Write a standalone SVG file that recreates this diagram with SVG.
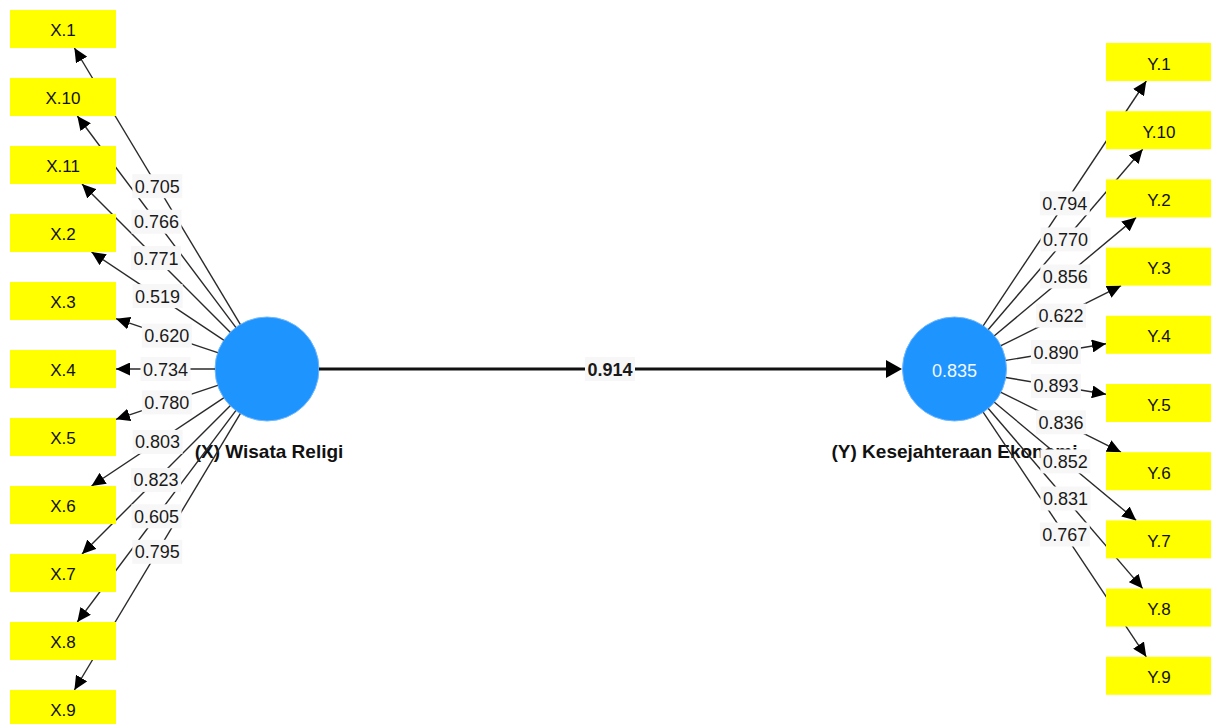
<svg xmlns="http://www.w3.org/2000/svg" width="1211" height="724" viewBox="0 0 1211 724">
<style>
.bg{fill:#ffffff}
.ind rect{fill:#ffff00}
.ind text{font-family:"Liberation Sans",Arial,sans-serif;font-size:17px;fill:#111;text-anchor:middle}
.lat circle{fill:#1e94ff;stroke:#6fb8ff;stroke-width:1}
.title{font-family:"Liberation Sans",Arial,sans-serif;font-size:19px;font-weight:bold;fill:#111;text-anchor:middle}
.r2{font-family:"Liberation Sans",Arial,sans-serif;font-size:18px;fill:#f4f8ff;text-anchor:middle}
.ln{stroke:#2a2a2a;stroke-width:1.4;fill:none;marker-end:url(#ah)}
.main{stroke:#111;stroke-width:3;fill:none;marker-end:url(#ahm)}
.lb rect{fill:#f7f7f7}
.lb text{font-family:"Liberation Sans",Arial,sans-serif;font-size:18px;fill:#1a1a1a;text-anchor:middle}
.lb text.b{font-weight:bold;font-size:18px}
</style>
<defs>
<marker id="ah" viewBox="0 0 14 13" markerWidth="14" markerHeight="13" refX="14" refY="6.5" orient="auto" markerUnits="userSpaceOnUse"><path d="M0,0 L14,6.5 L0,13 z" fill="#000"/></marker>
<marker id="ahm" viewBox="0 0 16 18" markerWidth="16" markerHeight="18" refX="2" refY="9" orient="auto" markerUnits="userSpaceOnUse"><path d="M0,0 L16,9 L0,18 z" fill="#000"/></marker>
</defs>
<rect class="bg" x="0" y="0" width="1211" height="724"/>

<g id="node-X" class="lat">
<circle cx="267" cy="369" r="52"/>
<text class="title" x="269" y="458">(X) Wisata Religi</text>
</g>
<g id="node-Y" class="lat">
<circle cx="954.5" cy="369" r="52"/>
<text class="r2" x="954.5" y="377">0.835</text>
<text class="title" x="954.5" y="458">(Y) Kesejahteraan Ekonomi</text>
</g>

<g id="connectors">
<line class="main" x1="319" y1="369" x2="888" y2="369"/>
<line class="ln" x1="240.3" y1="324.4" x2="74.4" y2="48"/>
<line class="ln" x1="235.8" y1="327.4" x2="77.3" y2="116"/>
<line class="ln" x1="230.2" y1="332.2" x2="82" y2="184"/>
<line class="ln" x1="223.7" y1="340.2" x2="91.5" y2="252"/>
<line class="ln" x1="217.7" y1="352.6" x2="116" y2="318.7"/>
<line class="ln" x1="215" y1="369" x2="116" y2="369"/>
<line class="ln" x1="217.7" y1="385.4" x2="116" y2="419.3"/>
<line class="ln" x1="223.7" y1="397.8" x2="91.5" y2="486"/>
<line class="ln" x1="230.2" y1="405.8" x2="82" y2="554"/>
<line class="ln" x1="235.8" y1="410.6" x2="77.3" y2="622"/>
<line class="ln" x1="240.3" y1="413.6" x2="74.4" y2="690"/>
<line class="ln" x1="983.3" y1="325.7" x2="1146.3" y2="81"/>
<line class="ln" x1="988.3" y1="329.5" x2="1142.7" y2="149.2"/>
<line class="ln" x1="994.4" y1="335.7" x2="1136.2" y2="217.4"/>
<line class="ln" x1="1001" y1="345.7" x2="1121.1" y2="285.6"/>
<line class="ln" x1="1005.8" y1="360.4" x2="1106" y2="343.7"/>
<line class="ln" x1="1005.8" y1="377.5" x2="1106" y2="394.2"/>
<line class="ln" x1="1001" y1="392.3" x2="1121" y2="452.2"/>
<line class="ln" x1="994.4" y1="402.3" x2="1136.2" y2="520.4"/>
<line class="ln" x1="988.3" y1="408.5" x2="1142.7" y2="588.6"/>
<line class="ln" x1="983.3" y1="412.3" x2="1146.3" y2="656.8"/>
<g class="lb">
<rect x="585" y="357" width="50" height="24"/><text class="b" x="610" y="375.5">0.914</text>
<rect x="132.3" y="174.2" width="50" height="24"/><text x="157.3" y="192.7">0.705</text>
<rect x="131.5" y="209.7" width="50" height="24"/><text x="156.5" y="228.2">0.766</text>
<rect x="131.1" y="246.1" width="50" height="24"/><text x="156.1" y="264.6">0.771</text>
<rect x="132.6" y="284.1" width="50" height="24"/><text x="157.6" y="302.6">0.519</text>
<rect x="141.8" y="323.6" width="50" height="24"/><text x="166.8" y="342.1">0.620</text>
<rect x="140.5" y="357" width="50" height="24"/><text x="165.5" y="375.5">0.734</text>
<rect x="141.8" y="390.4" width="50" height="24"/><text x="166.8" y="408.9">0.780</text>
<rect x="132.6" y="429.9" width="50" height="24"/><text x="157.6" y="448.4">0.803</text>
<rect x="131.1" y="467.9" width="50" height="24"/><text x="156.1" y="486.4">0.823</text>
<rect x="131.5" y="504.3" width="50" height="24"/><text x="156.5" y="522.8">0.605</text>
<rect x="132.3" y="539.8" width="50" height="24"/><text x="157.3" y="558.3">0.795</text>
<rect x="1039.8" y="191.4" width="50" height="24"/><text x="1064.8" y="209.9">0.794</text>
<rect x="1040.5" y="227.4" width="50" height="24"/><text x="1065.5" y="245.9">0.770</text>
<rect x="1040.3" y="264.5" width="50" height="24"/><text x="1065.3" y="283">0.856</text>
<rect x="1036" y="303.6" width="50" height="24"/><text x="1061" y="322.1">0.622</text>
<rect x="1030.9" y="340" width="50" height="24"/><text x="1055.9" y="358.5">0.890</text>
<rect x="1030.9" y="373.9" width="50" height="24"/><text x="1055.9" y="392.4">0.893</text>
<rect x="1036" y="410.3" width="50" height="24"/><text x="1061" y="428.8">0.836</text>
<rect x="1040.3" y="449.4" width="50" height="24"/><text x="1065.3" y="467.9">0.852</text>
<rect x="1040.5" y="486.5" width="50" height="24"/><text x="1065.5" y="505">0.831</text>
<rect x="1039.8" y="522.5" width="50" height="24"/><text x="1064.8" y="541">0.767</text>
</g>
</g>

<g id="node-X1" class="ind"><rect x="10" y="10" width="106" height="38"/><text x="63" y="36">X.1</text></g>
<g id="node-X10" class="ind"><rect x="10" y="78" width="106" height="38"/><text x="63" y="104">X.10</text></g>
<g id="node-X11" class="ind"><rect x="10" y="146" width="106" height="38"/><text x="63" y="172">X.11</text></g>
<g id="node-X2" class="ind"><rect x="10" y="214" width="106" height="38"/><text x="63" y="240">X.2</text></g>
<g id="node-X3" class="ind"><rect x="10" y="282" width="106" height="38"/><text x="63" y="308">X.3</text></g>
<g id="node-X4" class="ind"><rect x="10" y="350" width="106" height="38"/><text x="63" y="376">X.4</text></g>
<g id="node-X5" class="ind"><rect x="10" y="418" width="106" height="38"/><text x="63" y="444">X.5</text></g>
<g id="node-X6" class="ind"><rect x="10" y="486" width="106" height="38"/><text x="63" y="512">X.6</text></g>
<g id="node-X7" class="ind"><rect x="10" y="554" width="106" height="38"/><text x="63" y="580">X.7</text></g>
<g id="node-X8" class="ind"><rect x="10" y="622" width="106" height="38"/><text x="63" y="648">X.8</text></g>
<g id="node-X9" class="ind"><rect x="10" y="690" width="106" height="38"/><text x="63" y="716">X.9</text></g>

<g id="node-Y1" class="ind"><rect x="1106" y="43" width="106" height="38"/><text x="1159" y="69.5">Y.1</text></g>
<g id="node-Y10" class="ind"><rect x="1106" y="111.2" width="106" height="38"/><text x="1159" y="137.7">Y.10</text></g>
<g id="node-Y2" class="ind"><rect x="1106" y="179.4" width="106" height="38"/><text x="1159" y="205.9">Y.2</text></g>
<g id="node-Y3" class="ind"><rect x="1106" y="247.6" width="106" height="38"/><text x="1159" y="274.1">Y.3</text></g>
<g id="node-Y4" class="ind"><rect x="1106" y="315.8" width="106" height="38"/><text x="1159" y="342.3">Y.4</text></g>
<g id="node-Y5" class="ind"><rect x="1106" y="384" width="106" height="38"/><text x="1159" y="410.5">Y.5</text></g>
<g id="node-Y6" class="ind"><rect x="1106" y="452.2" width="106" height="38"/><text x="1159" y="478.7">Y.6</text></g>
<g id="node-Y7" class="ind"><rect x="1106" y="520.4" width="106" height="38"/><text x="1159" y="546.9">Y.7</text></g>
<g id="node-Y8" class="ind"><rect x="1106" y="588.6" width="106" height="38"/><text x="1159" y="615.1">Y.8</text></g>
<g id="node-Y9" class="ind"><rect x="1106" y="656.8" width="106" height="38"/><text x="1159" y="683.3">Y.9</text></g>
</svg>
